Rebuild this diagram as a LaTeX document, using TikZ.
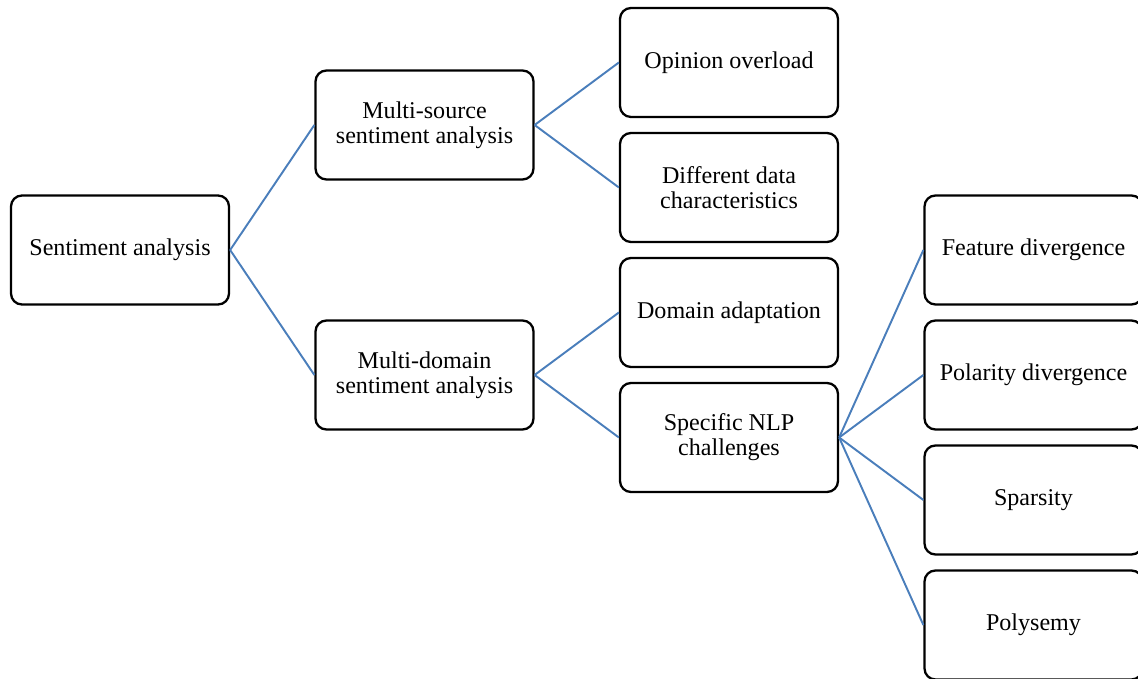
\documentclass[tikz,border=0pt]{standalone}
\usepackage{fontspec}
\setmainfont{Liberation Serif}
\usepackage{xcolor}
\usetikzlibrary{positioning}

\definecolor{branchblue}{RGB}{74,126,187}

\tikzset{
  topic/.style={draw=black, line width=1.3pt, rounded corners=0.22cm, fill=white,
    minimum width=4.36cm, minimum height=2.18cm, align=center,
    font=\fontsize{13.7pt}{14.3pt}\selectfont, inner sep=2pt},
  branch/.style={draw=branchblue, line width=1.1pt}
}

\begin{document}
\begin{tikzpicture}[on grid, node distance=6.09cm]
        \useasboundingbox (-2.4,5.0) rectangle (20.36,-8.58);
        \node[topic]  (sa)                                    {Sentiment analysis};
        \node[topic]  (ms)  [above right=2.5cm and 6.09cm of sa] {Multi-source\\sentiment analysis};
        \node[topic]  (md)  [below right=2.5cm and 6.09cm of sa] {Multi-domain\\sentiment analysis};
        \node[topic]  (oo)  [above right=1.25cm and 6.09cm of ms] {Opinion overload};
        \node[topic]  (dd)  [below right=1.25cm and 6.09cm of ms] {Different data\\characteristics};
        \node[topic]  (da)  [above right=1.25cm and 6.09cm of md] {Domain adaptation};
        \node[topic]  (nlp) [below right=1.25cm and 6.09cm of md] {Specific NLP\\challenges};
        \node[topic]  (fd)  [above right=3.75cm and 6.09cm of nlp] {Feature divergence};
        \node[topic]  (pd)  [above right=1.25cm and 6.09cm of nlp] {Polarity divergence};
        \node[topic]  (sp)  [below right=1.25cm and 6.09cm of nlp] {Sparsity};
        \node[topic]  (po)  [below right=3.75cm and 6.09cm of nlp] {Polysemy};
        \path[branch]
          (sa.east)  edge (ms.west)
                     edge (md.west)
          (ms.east)  edge (oo.west)
                     edge (dd.west)
          (md.east)  edge (da.west)
                     edge (nlp.west)
          (nlp.east) edge (fd.west)
                     edge (pd.west)
                     edge (sp.west)
                     edge (po.west);
      \end{tikzpicture}
\end{document}
